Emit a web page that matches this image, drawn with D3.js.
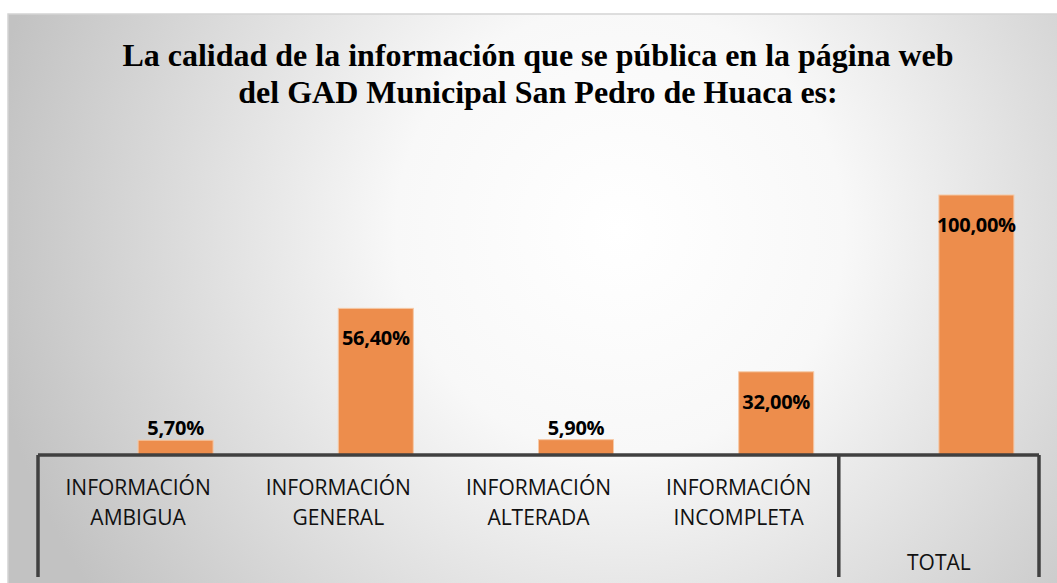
<!DOCTYPE html>
<html>
<head>
<meta charset="utf-8">
<script src="https://cdn.jsdelivr.net/npm/d3@7"></script>
<style>
  body { margin: 0; background: #fff; }
  svg { display: block; }
</style>
</head>
<body>
<div id="chart"></div>
<script>
var titleLines = ["La calidad de la información que se pública en la página web",
                  "del GAD Municipal San Pedro de Huaca es:"];
var categories = ["INFORMACIÓN AMBIGUA", "INFORMACIÓN GENERAL", "INFORMACIÓN ALTERADA", "INFORMACIÓN INCOMPLETA", ""];
var groups = ["", "", "", "", "TOTAL"];
var values = [5.7, 56.4, 5.9, 32.0, 100.0];

var width = 1057, height = 583;
var plot = {left: 38, right: 1039, top: 195, base: 455};

var svg = d3.select('#chart').append('svg')
  .attr('width', width)
  .attr('height', height);

var defs = svg.append('defs');
var grad = defs.append('radialGradient')
  .attr('id', 'bg')
  .attr('gradientUnits', 'userSpaceOnUse')
  .attr('cx', 620).attr('cy', 230).attr('r', 640);
grad.append('stop').attr('offset', '0%').attr('stop-color', '#ffffff');
grad.append('stop').attr('offset', '35%').attr('stop-color', '#f8f8f8');
grad.append('stop').attr('offset', '100%').attr('stop-color', '#c2c2c2');

// chart area
svg.append('rect')
  .attr('x', 8).attr('y', 14)
  .attr('width', 1070).attr('height', 600)
  .style('fill', 'url(#bg)')
  .style('stroke', '#d4d4d4')
  .style('stroke-width', 1.5);

// title
svg.append('text')
  .attr('x', 538).attr('y', 66)
  .attr('text-anchor', 'middle')
  .style('font-family', '"Liberation Serif", "Times New Roman", serif')
  .style('font-weight', 'bold')
  .style('font-size', '32px')
  .selectAll('tspan')
  .data(titleLines)
  .enter().append('tspan')
  .attr('x', 538)
  .attr('dy', function(d, i) { return i ? 37 : 0; })
  .text(function(d) { return d; });

var x = d3.scaleBand()
  .domain(d3.range(values.length))
  .range([plot.left, plot.right]);

var y = d3.scaleLinear()
  .domain([0, 100])
  .range([plot.base, plot.top]);

var barW = 75;
var fmt = function(v) { return d3.format('.2f')(v).replace('.', ',') + '%'; };

var bars = svg.append('g').selectAll('.bar')
  .data(values)
  .enter().append('g')
  .attr('class', 'bar');

bars.append('rect')
  .attr('x', function(d, i) { return x(i) + x.bandwidth() / 2; })
  .attr('y', function(d) { return y(d); })
  .attr('width', barW)
  .attr('height', function(d) { return y(0) - y(d); })
  .style('fill', '#ed8d4c')
  .style('stroke', '#f6c9a6')
  .style('stroke-width', 1);

bars.append('text')
  .attr('x', function(d, i) { return x(i) + x.bandwidth() / 2 + barW / 2; })
  .attr('y', function(d) {
    var h = y(0) - y(d);
    return h > 40 ? y(d) + 37 : y(d) - 5;
  })
  .attr('text-anchor', 'middle')
  .style('font-family', '"Open Sans", sans-serif')
  .style('font-weight', 'bold')
  .style('font-size', '20px')
  .style('letter-spacing', '-0.3px')
  .style('fill', '#000')
  .text(function(d) { return fmt(d); });

// axis lines
var axis = svg.append('g')
  .style('stroke', '#404040')
  .style('stroke-width', 3.5);

axis.append('line')
  .attr('x1', plot.left).attr('x2', plot.right)
  .attr('y1', plot.base).attr('y2', plot.base);

// group dividers (multi-level axis)
var dividers = [plot.left, x(groups.indexOf('TOTAL')), plot.right];
axis.selectAll('.div')
  .data(dividers)
  .enter().append('line')
  .attr('x1', function(d) { return d; }).attr('x2', function(d) { return d; })
  .attr('y1', plot.base).attr('y2', 577);

// category labels
var labelFont = '"Open Sans", sans-serif';
svg.append('g').selectAll('text')
  .data(categories)
  .enter().append('text')
  .attr('text-anchor', 'middle')
  .style('font-family', labelFont)
  .style('font-size', '21px')
  .style('fill', '#111')
  .each(function(d, i) {
    var words = d.split(' ');
    d3.select(this).selectAll('tspan')
      .data(words)
      .enter().append('tspan')
      .attr('x', x(i) + x.bandwidth() / 2)
      .attr('y', function(w, j) { return 495 + j * 30; })
      .text(function(w) { return w; });
  });

// group labels
svg.append('g').selectAll('text')
  .data(groups)
  .enter().append('text')
  .attr('x', function(d, i) { return x(i) + x.bandwidth() / 2; })
  .attr('y', 570)
  .attr('text-anchor', 'middle')
  .style('font-family', labelFont)
  .style('font-size', '21px')
  .style('fill', '#111')
  .text(function(d) { return d; });
</script>
</body>
</html>
